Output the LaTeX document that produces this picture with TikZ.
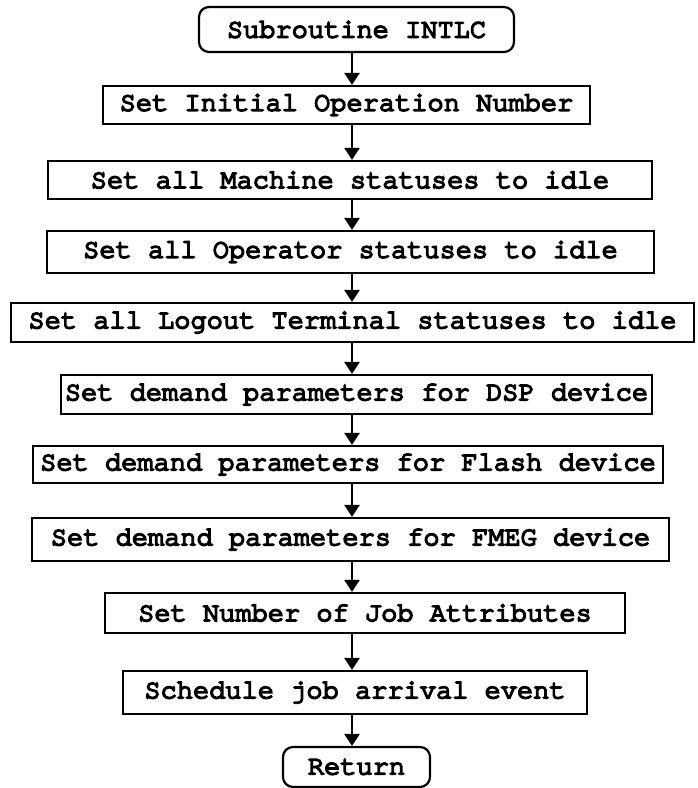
\documentclass[tikz,border=0pt]{standalone}
\usepackage{fontspec}
\newfontfamily\boxfont{texgyrecursor}[Extension=.otf, UprightFont=*-regular, FakeBold=6]
\usetikzlibrary{arrows.meta}
\tikzset{
  stepbox/.style={draw, line width=2.2pt, inner sep=0pt, align=center,
    font=\boxfont\fontsize{27}{30}\selectfont},
  termbox/.style={stepbox, rounded corners=10pt},
  flow/.style={line width=2.6pt, -{Triangle[width=15pt,length=12pt]}}
}
\begin{document}
\begin{tikzpicture}[x=1pt,y=-1pt]
\useasboundingbox (0,0) rectangle (697,788);
\fill[white] (0,0) rectangle (697,788);
\node[termbox, minimum width=315pt, minimum height=45pt] (start) at (356.5,29.5) {Subroutine INTLC};
\node[stepbox, minimum width=487pt, minimum height=38pt] (opnum) at (346.5,105) {Set Initial Operation Number};
\node[stepbox, minimum width=604pt, minimum height=38pt] (mach) at (350,180) {Set all Machine statuses to idle};
\node[stepbox, minimum width=607pt, minimum height=42pt] (oper) at (350.5,252) {Set all Operator statuses to idle};
\node[stepbox, minimum width=683pt, minimum height=39pt] (logout) at (352.5,322.5) {Set all Logout Terminal statuses to idle};
\node[stepbox, minimum width=591pt, minimum height=39pt] (dsp) at (356.5,394.5) {Set demand parameters for DSP device};
\node[stepbox, minimum width=630pt, minimum height=37pt] (flash) at (348,464.5) {Set demand parameters for Flash device};
\node[stepbox, minimum width=637pt, minimum height=43pt] (fmeg) at (350.5,539.5) {Set demand parameters for FMEG device};
\node[stepbox, minimum width=520pt, minimum height=40pt] (attr) at (365,613) {Set Number of Job Attributes};
\node[stepbox, minimum width=464pt, minimum height=43pt] (sched) at (355,692.5) {Schedule job arrival event};
\node[termbox, minimum width=147pt, minimum height=40pt] (ret) at (356.5,767) {Return};
% common vertical axis of the connectors
\coordinate (axis) at (352,0);
\foreach \a/\b in {start/opnum, opnum/mach, mach/oper, oper/logout, logout/dsp,
                   dsp/flash, flash/fmeg, fmeg/attr, attr/sched, sched/ret}
  \draw[flow] (\a.south -| axis) -- (\b.north -| axis);
\end{tikzpicture}
\end{document}
